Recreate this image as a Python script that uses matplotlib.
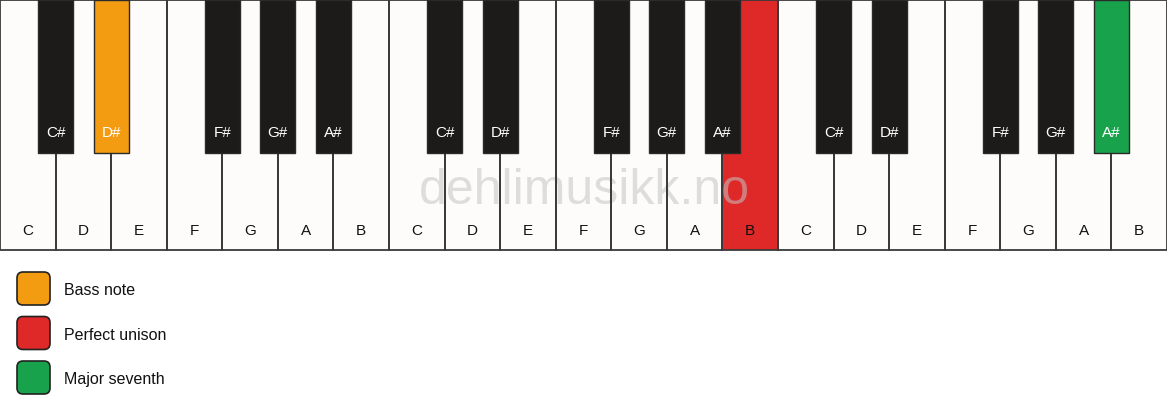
import matplotlib.pyplot as plt
from matplotlib.patches import Rectangle, FancyBboxPatch

# data
white_notes = ['C', 'D', 'E', 'F', 'G', 'A', 'B'] * 3
black_notes = ['C#', 'D#', 'F#', 'G#', 'A#'] * 3
black_after = [0, 1, 3, 4, 5]  # white key index the black key sits after (per octave)
highlight_white = {13: '#DF2828'}             # B (2nd octave)
highlight_black = {1: '#F39C12', 14: '#18A24B'}  # D# (1st), A# (3rd)
legend_labels = ['Bass note', 'Perfect unison', 'Major seventh']
legend_colors = ['#F39C12', '#DF2828', '#18A24B']

W, H = 1167, 417
fig = plt.figure(figsize=(W / 100, H / 100), dpi=100)
ax = fig.add_axes([0, 0, 1, 1])
ax.set_xlim(0, W)
ax.set_ylim(H, 0)
ax.axis('off')

plt.rcParams['font.family'] = ['Liberation Sans', 'DejaVu Sans']

kw = W / len(white_notes)
kh = 250
bw = 35
bh = 153

for i, n in enumerate(white_notes):
    fc = highlight_white.get(i, '#FDFCFA')
    ax.add_patch(Rectangle((i * kw, 0), kw, kh, facecolor=fc, edgecolor='none', zorder=1))
    ax.add_patch(Rectangle((i * kw, 0), kw, kh, fill=False, edgecolor='#3a3a3a', lw=1.3, zorder=2.5))
    ax.text(i * kw + kw / 2, 231, n, ha='center', va='center', fontsize=11, color='#111111', zorder=5)

for j, n in enumerate(black_notes):
    octave = j // 5
    wi = octave * 7 + black_after[j % 5]
    cx = (wi + 1) * kw
    fc = highlight_black.get(j, '#1D1B19')
    ax.add_patch(Rectangle((cx - bw / 2, 0), bw, bh, facecolor=fc, edgecolor='#2a2a2a', lw=1.0, zorder=3))
    ax.text(cx, 133, n, ha='center', va='center', fontsize=11, color='white', zorder=5)

# watermark
ax.text(W / 2 + 1, 191, 'dehlimusikk.no', ha='center', va='center', fontsize=36,
        color='#c4c4c4', alpha=0.55, zorder=2)

# legend
for k, (lab, col) in enumerate(zip(legend_labels, legend_colors)):
    y0 = 272 + k * 44.5
    ax.add_patch(FancyBboxPatch((17 + 6, y0 + 6), 33 - 12, 33 - 12,
                                boxstyle='round,pad=6', facecolor=col,
                                edgecolor='#222222', lw=1.2, zorder=2))
    ax.text(64, y0 + 18.5, lab, ha='left', va='center', fontsize=11.5, color='#111111')

fig.savefig('out.png', dpi=100)
